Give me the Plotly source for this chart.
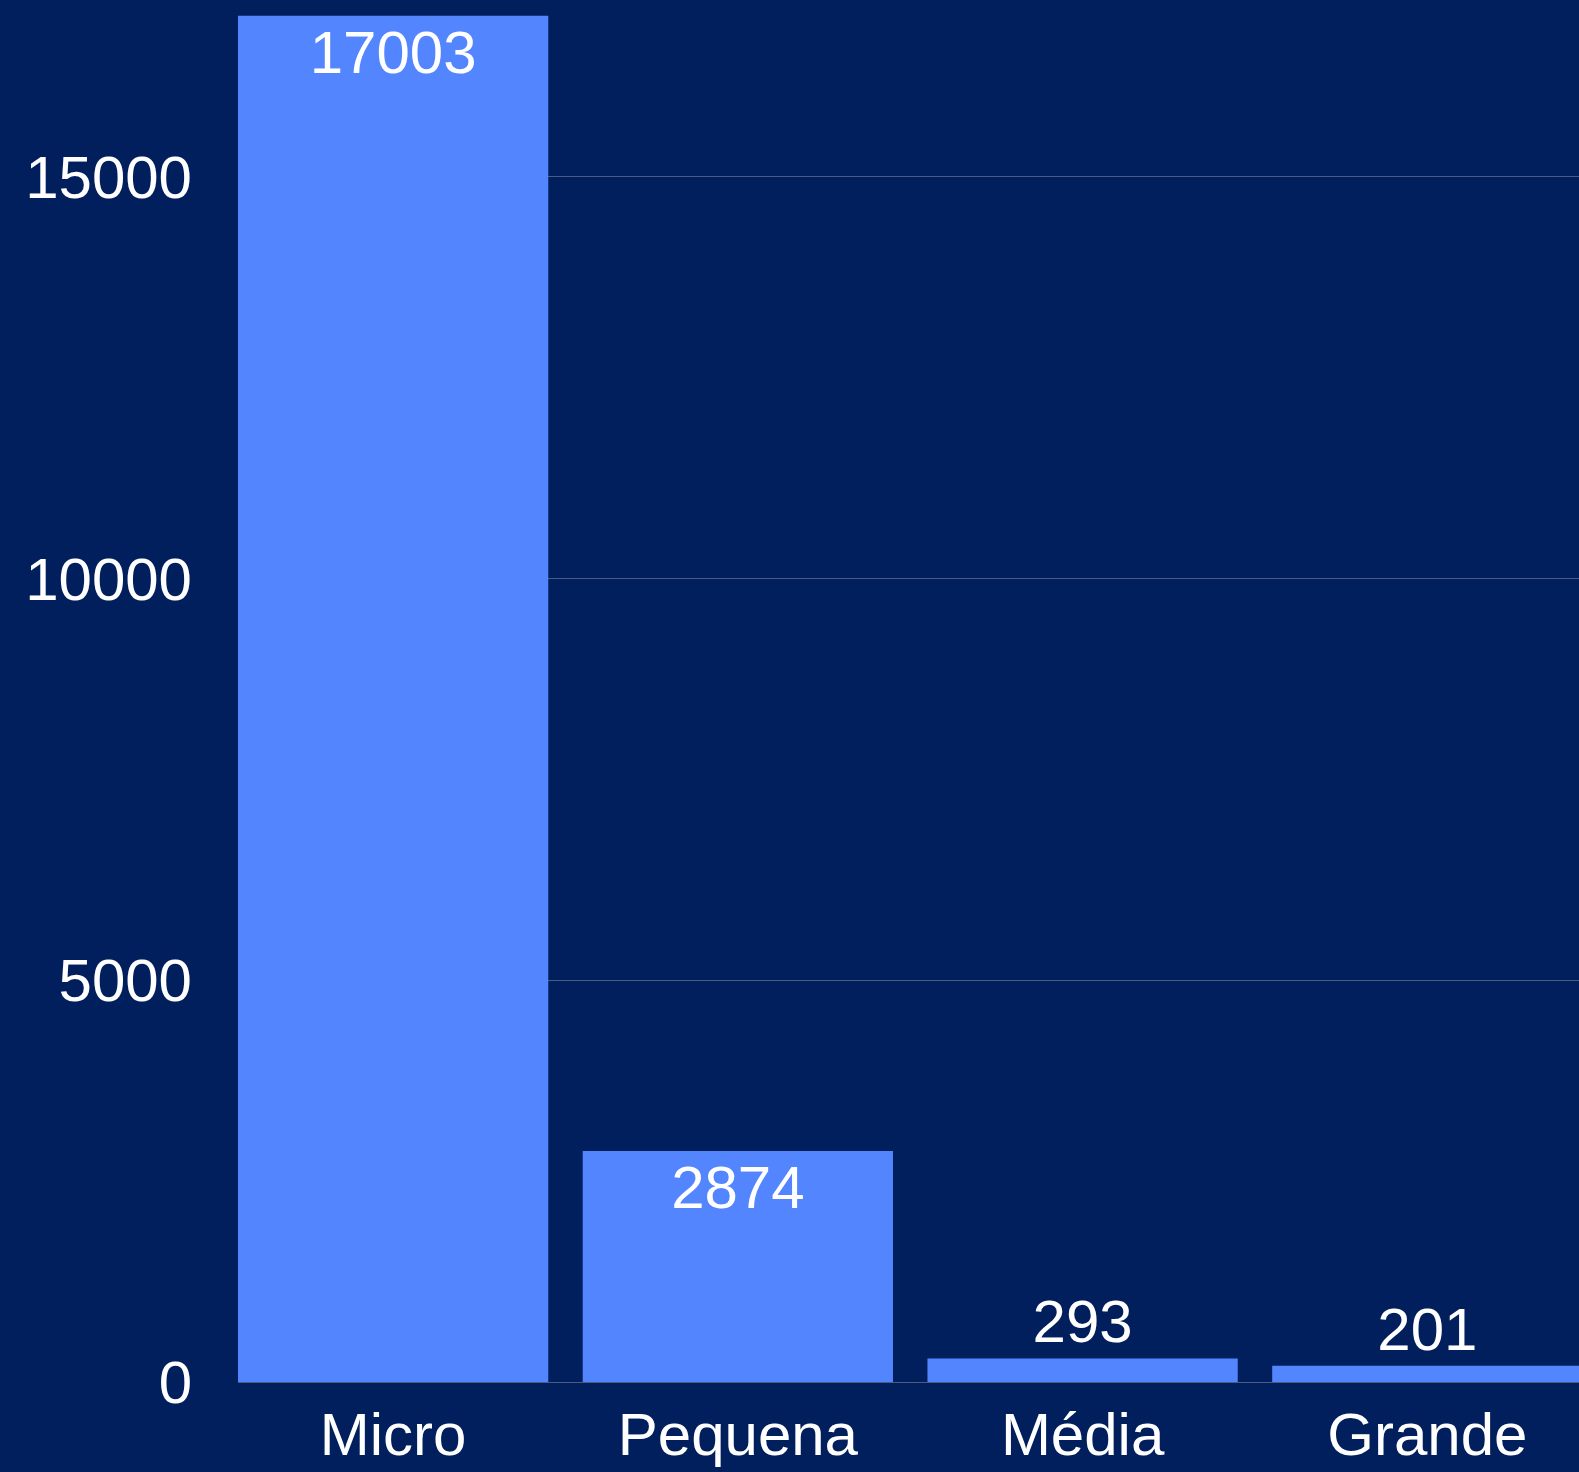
import plotly.graph_objects as go

# porte das empresas
categorias = ["Micro", "Pequena", "Média", "Grande"]
quantidade = [17003, 2874, 293, 201]
y_ticks = [0, 5000, 10000, 15000]

fundo = "#001F5C"
cor_barra = "#5385FE"

fig = go.Figure()
fig.add_trace(go.Bar(
    x=categorias,
    y=quantidade,
    marker_color=cor_barra,
    marker_line_width=0,
    text=quantidade,
    textposition="auto",
    insidetextanchor="end",
    textfont=dict(color="white", size=60),
    insidetextfont=dict(color="white", size=60),
    outsidetextfont=dict(color="white", size=60),
    cliponaxis=False,
))

fig.update_layout(
    width=1579,
    height=1472,
    margin=dict(l=238, r=0, t=0, b=90),
    paper_bgcolor=fundo,
    plot_bgcolor=fundo,
    font=dict(family="Liberation Sans, Arial, sans-serif", size=60, color="white"),
    bargap=0.1,
    showlegend=False,
)
fig.update_xaxes(
    range=[-0.45, 3.44],
    showgrid=False,
    ticks="",
    ticklabelstandoff=12,
    tickfont=dict(size=60, color="white"),
)
fig.update_yaxes(
    range=[0, 17200],
    tickvals=y_ticks,
    tickformat="d",
    showgrid=True,
    gridcolor="#4A5C82",
    gridwidth=1,
    zeroline=True,
    zerolinecolor="#4A5C82",
    zerolinewidth=1,
    ticklabelstandoff=45,
    tickfont=dict(size=60, color="white"),
)

# sem margem branca da página e sem barra de ferramentas
fig.write_html(
    "out.html",
    config={"displayModeBar": False},
    post_script="document.body.style.margin='0';document.body.style.background='%s';" % fundo,
)
